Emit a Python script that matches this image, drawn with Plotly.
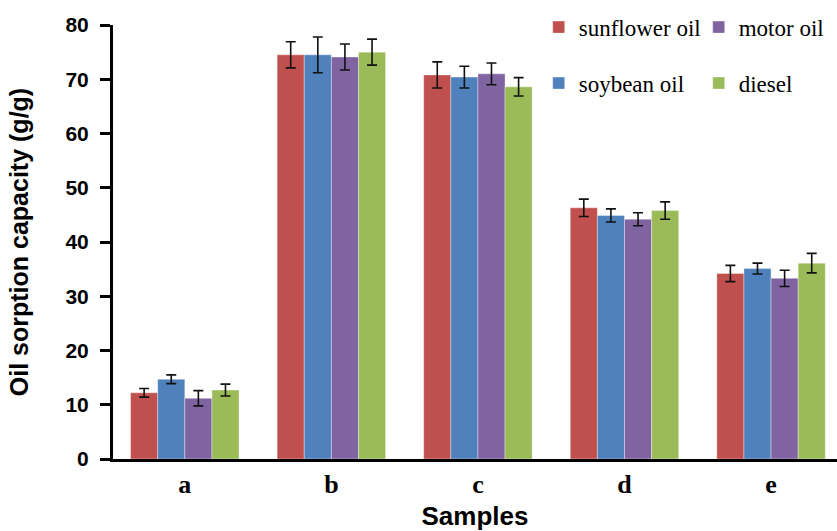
import plotly.graph_objects as go

categories = ["a", "b", "c", "d", "e"]
series_names = ["sunflower oil", "soybean oil", "motor oil", "diesel"]
colors = ["#C0504D", "#4F81BD", "#8064A2", "#9BBB59"]

sunflower = [12.2, 74.5, 70.8, 46.3, 34.2]
soybean = [14.7, 74.5, 70.4, 44.9, 35.1]
motor = [11.2, 74.1, 71.0, 44.2, 33.3]
diesel = [12.7, 75.0, 68.6, 45.8, 36.1]

sunflower_err = [0.8, 2.4, 2.4, 1.6, 1.5]
soybean_err = [0.8, 3.3, 2.0, 1.2, 1.0]
motor_err = [1.4, 2.4, 2.0, 1.2, 1.5]
diesel_err = [1.1, 2.4, 1.7, 1.6, 1.8]

values = [sunflower, soybean, motor, diesel]
errors = [sunflower_err, soybean_err, motor_err, diesel_err]
legend_ids = ["legend", "legend2", "legend", "legend2"]

SERIF = "Times New Roman, Liberation Serif, serif"
SANS = "Arial, Liberation Sans, sans-serif"

fig = go.Figure()
for name, vals, errs, col, lg in zip(series_names, values, errors, colors, legend_ids):
    fig.add_trace(go.Bar(
        x=list(range(len(categories))), y=vals, name=name,
        marker=dict(color=col, line=dict(width=0.6, color="rgba(255,255,255,0.6)")),
        error_y=dict(type="data", array=errs, color="#111111", thickness=1.6, width=5),
        legend=lg,
    ))

legend_common = dict(
    orientation="h", xanchor="left", yanchor="middle", entrywidth=115,
    entrywidthmode="pixels", bgcolor="rgba(0,0,0,0)",
    font=dict(family=SERIF, size=23, color="#000000"),
    itemwidth=30, tracegroupgap=0,
)

fig.update_layout(
    width=837, height=531,
    font=dict(family=SERIF, color="black"),
    margin=dict(l=113, r=0, t=25, b=72, autoexpand=False),
    plot_bgcolor="white", paper_bgcolor="white",
    barmode="group", bargap=0.26, bargroupgap=0,
    showlegend=True,
    legend=dict(x=0.588, y=0.995, **legend_common),
    legend2=dict(x=0.588, y=0.866, **legend_common),
    xaxis=dict(
        range=[-0.49, 4.45], tickmode="array",
        tickvals=list(range(len(categories))), ticktext=categories,
        showline=True, linecolor="black", linewidth=3, ticks="",
        showgrid=False, zeroline=False,
        tickfont=dict(family=SERIF, size=26, color="black", weight="bold"),
        title=dict(text="Samples", standoff=9,
                   font=dict(family=SANS, size=26, color="black", weight="bold")),
    ),
    yaxis=dict(
        range=[0, 80], dtick=10, showline=True, linecolor="black", linewidth=3,
        ticks="outside", ticklen=10, tickwidth=3, tickcolor="black",
        ticklabelstandoff=7,
        showgrid=False, zeroline=False,
        tickfont=dict(family=SANS, size=21, color="black", weight="bold"),
        title=dict(text="Oil sorption capacity (g/g)", standoff=30,
                   font=dict(family=SANS, size=25, color="black", weight="bold")),
    ),
)

fig.write_html("out.html")
